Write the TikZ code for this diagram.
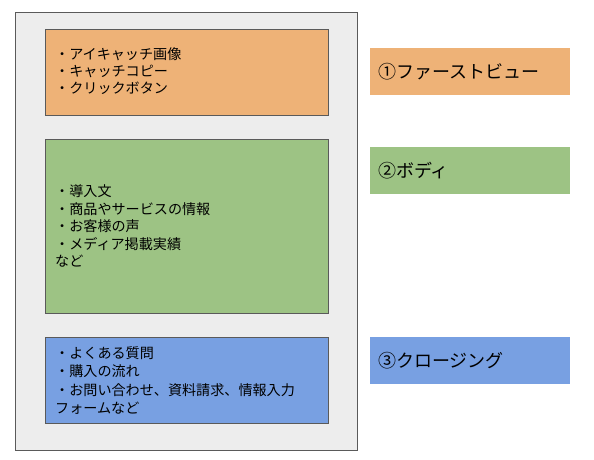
\documentclass[tikz,border=0pt]{standalone}
\usepackage{fontspec}
\setmainfont{Noto Sans CJK JP}
\definecolor{cbg}{HTML}{EDEDED}
\definecolor{cborder}{HTML}{5A5A5A}
\definecolor{corange}{HTML}{EEB277}
\definecolor{cgreen}{HTML}{9DC384}
\definecolor{cblue}{HTML}{78A0E2}
\begin{document}
\begin{tikzpicture}[x=1pt,y=-1pt,
  secbox/.style={draw=cborder, line width=0.8pt},
  listtext/.style={anchor=west, inner sep=0pt, align=left, font=\fontsize{14.1}{17.5}\selectfont},
  label/.style={inner xsep=8pt, inner ysep=0pt, minimum width=200pt, minimum height=47pt,
    text width=184pt, align=left, font=\fontsize{18}{20}\selectfont}]
\useasboundingbox (0,0) rectangle (594,460);
\fill[white] (0,0) rectangle (594,460);
\draw[fill=cbg, draw=cborder, line width=0.8pt] (15,12) rectangle (357,450);
\node[secbox, fill=corange, minimum width=283pt, minimum height=86pt, inner sep=0pt] (fv) at (186.5,72) {};
\node[secbox, fill=cgreen, minimum width=283pt, minimum height=174pt, inner sep=0pt] (body) at (186.5,226) {};
\node[secbox, fill=cblue, minimum width=283pt, minimum height=86pt, inner sep=0pt] (cl) at (186.5,380) {};
\node[listtext, font=\fontsize{14.1}{17}\selectfont] (fvt) at (55,71) {・アイキャッチ画像\\・キャッチコピー\\・クリックボタン};
\node[listtext] (bodyt) at (55,226) {・導入文\\・商品やサービスの情報\\・お客様の声\\・メディア掲載実績\\など};
\node[listtext, font=\fontsize{14.1}{18.2}\selectfont] (clt) at (55,380.5) {・よくある質問\\・購入の流れ\\・お問い合わせ、資料請求、情報入力\\フォームなど};
\node[label, fill=corange] (l1) at (470,71.5) {①ファーストビュー};
\node[label, fill=cgreen] (l2) at (470,170.5) {②ボディ};
\node[label, fill=cblue] (l3) at (470,360.5) {③クロージング};
\end{tikzpicture}
\end{document}
